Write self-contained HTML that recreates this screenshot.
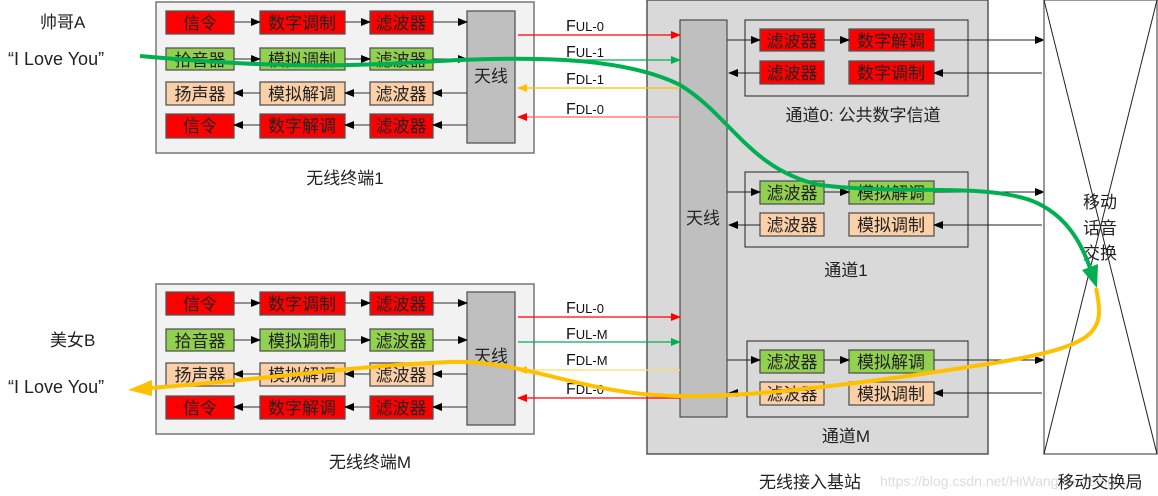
<!DOCTYPE html>
<html><head><meta charset="utf-8"><style>
html,body{margin:0;padding:0;background:#fff;}
svg{display:block;}
text{font-family:"Liberation Sans","Noto Sans CJK SC",sans-serif;}
.cn{font-size:17px;fill:#222;}
.bx{stroke:#555;stroke-width:1.3;}
</style></head><body>
<svg width="1158" height="496" viewBox="0 0 1158 496" xmlns="http://www.w3.org/2000/svg">
<defs>
<marker id="ak" markerWidth="10" markerHeight="8" refX="9" refY="4" orient="auto" markerUnits="userSpaceOnUse"><path d="M0,0 L10,4 L0,8 z" fill="#000"/></marker>
<marker id="ar" markerWidth="10" markerHeight="8" refX="9" refY="4" orient="auto" markerUnits="userSpaceOnUse"><path d="M0,0 L10,4 L0,8 z" fill="#f00"/></marker>
<marker id="ag" markerWidth="10" markerHeight="8" refX="9" refY="4" orient="auto" markerUnits="userSpaceOnUse"><path d="M0,0 L10,4 L0,8 z" fill="#00b050"/></marker>
<marker id="ay" markerWidth="10" markerHeight="8" refX="9" refY="4" orient="auto" markerUnits="userSpaceOnUse"><path d="M0,0 L10,4 L0,8 z" fill="#ffc000"/></marker>
</defs>

<text x="40" y="28" class="cn">帅哥A</text>
<text x="8" y="65" style="font-size:18px" fill="#222">“I Love You”</text>
<text x="50" y="346" class="cn">美女B</text>
<text x="8" y="393" style="font-size:18px" fill="#222">“I Love You”</text>

<!-- Terminal 1 -->
<rect x="156" y="2" width="378" height="151" fill="#f2f2f2" stroke="#777" stroke-width="1.5"/>
<g class="bx">
<rect x="166" y="11" width="68" height="23" fill="#f00"/>
<rect x="260" y="11" width="85" height="23" fill="#f00"/>
<rect x="370" y="11" width="63" height="23" fill="#f00"/>
<rect x="166" y="48" width="68" height="22" fill="#92d050"/>
<rect x="260" y="48" width="85" height="22" fill="#92d050"/>
<rect x="370" y="48" width="63" height="22" fill="#92d050"/>
<rect x="166" y="82" width="68" height="23" fill="#fbd0a8"/>
<rect x="260" y="82" width="85" height="23" fill="#fbd0a8"/>
<rect x="370" y="82" width="63" height="23" fill="#fbd0a8"/>
<rect x="166" y="114" width="68" height="24" fill="#f00"/>
<rect x="260" y="114" width="85" height="24" fill="#f00"/>
<rect x="370" y="114" width="63" height="24" fill="#f00"/>
<rect x="467" y="11" width="48" height="132" fill="#bfbfbf"/>
</g>
<g class="cn" text-anchor="middle">
<text x="200" y="29">信令</text><text x="302" y="29">数字调制</text><text x="401" y="29">滤波器</text>
<text x="200" y="66">拾音器</text><text x="302" y="66">模拟调制</text><text x="401" y="66">滤波器</text>
<text x="200" y="100">扬声器</text><text x="302" y="100">模拟解调</text><text x="401" y="100">滤波器</text>
<text x="200" y="132">信令</text><text x="302" y="132">数字解调</text><text x="401" y="132">滤波器</text>
<text x="491" y="82">天线</text>
</g>
<g stroke="#333" stroke-width="1" fill="none">
<line x1="234" y1="22" x2="260" y2="22" marker-end="url(#ak)"/>
<line x1="345" y1="22" x2="370" y2="22" marker-end="url(#ak)"/>
<line x1="433" y1="22" x2="467" y2="22" marker-end="url(#ak)"/>
<line x1="234" y1="59" x2="260" y2="59" marker-end="url(#ak)"/>
<line x1="345" y1="59" x2="370" y2="59" marker-end="url(#ak)"/>
<line x1="433" y1="59" x2="467" y2="59" marker-end="url(#ak)"/>
<line x1="260" y1="93" x2="234" y2="93" marker-end="url(#ak)"/>
<line x1="370" y1="93" x2="345" y2="93" marker-end="url(#ak)"/>
<line x1="467" y1="93" x2="433" y2="93" marker-end="url(#ak)"/>
<line x1="260" y1="125" x2="234" y2="125" marker-end="url(#ak)"/>
<line x1="370" y1="125" x2="345" y2="125" marker-end="url(#ak)"/>
<line x1="467" y1="125" x2="433" y2="125" marker-end="url(#ak)"/>
</g>
<text x="345" y="184" class="cn" text-anchor="middle">无线终端1</text>

<!-- Terminal M -->
<rect x="156" y="284" width="378" height="150" fill="#f2f2f2" stroke="#777" stroke-width="1.5"/>
<g class="bx">
<rect x="166" y="292" width="68" height="23" fill="#f00"/>
<rect x="260" y="292" width="85" height="23" fill="#f00"/>
<rect x="370" y="292" width="63" height="23" fill="#f00"/>
<rect x="166" y="329" width="68" height="22" fill="#92d050"/>
<rect x="260" y="329" width="85" height="22" fill="#92d050"/>
<rect x="370" y="329" width="63" height="22" fill="#92d050"/>
<rect x="166" y="363" width="68" height="23" fill="#fbd0a8"/>
<rect x="260" y="363" width="85" height="23" fill="#fbd0a8"/>
<rect x="370" y="363" width="63" height="23" fill="#fbd0a8"/>
<rect x="166" y="396" width="68" height="23" fill="#f00"/>
<rect x="260" y="396" width="85" height="23" fill="#f00"/>
<rect x="370" y="396" width="63" height="23" fill="#f00"/>
<rect x="467" y="292" width="48" height="133" fill="#bfbfbf"/>
</g>
<g class="cn" text-anchor="middle">
<text x="200" y="310">信令</text><text x="302" y="310">数字调制</text><text x="401" y="310">滤波器</text>
<text x="200" y="347">拾音器</text><text x="302" y="347">模拟调制</text><text x="401" y="347">滤波器</text>
<text x="200" y="381">扬声器</text><text x="302" y="381">模拟解调</text><text x="401" y="381">滤波器</text>
<text x="200" y="414">信令</text><text x="302" y="414">数字解调</text><text x="401" y="414">滤波器</text>
<text x="491" y="362">天线</text>
</g>
<g stroke="#333" stroke-width="1" fill="none">
<line x1="234" y1="303" x2="260" y2="303" marker-end="url(#ak)"/>
<line x1="345" y1="303" x2="370" y2="303" marker-end="url(#ak)"/>
<line x1="433" y1="303" x2="467" y2="303" marker-end="url(#ak)"/>
<line x1="234" y1="340" x2="260" y2="340" marker-end="url(#ak)"/>
<line x1="345" y1="340" x2="370" y2="340" marker-end="url(#ak)"/>
<line x1="433" y1="340" x2="467" y2="340" marker-end="url(#ak)"/>
<line x1="260" y1="374" x2="234" y2="374" marker-end="url(#ak)"/>
<line x1="370" y1="374" x2="345" y2="374" marker-end="url(#ak)"/>
<line x1="467" y1="374" x2="433" y2="374" marker-end="url(#ak)"/>
<line x1="260" y1="407" x2="234" y2="407" marker-end="url(#ak)"/>
<line x1="370" y1="407" x2="345" y2="407" marker-end="url(#ak)"/>
<line x1="467" y1="407" x2="433" y2="407" marker-end="url(#ak)"/>
</g>
<text x="370" y="468" class="cn" text-anchor="middle">无线终端M</text>

<!-- Base station -->
<rect x="647" y="0" width="341" height="454" fill="#d9d9d9" stroke="#555" stroke-width="1.5"/>
<rect x="680" y="20" width="47" height="397" fill="#bfbfbf" stroke="#333" stroke-width="1"/>
<text x="703" y="224" class="cn" text-anchor="middle">天线</text>
<rect x="745" y="20" width="223" height="76" fill="none" stroke="#222" stroke-width="1"/>
<rect x="745" y="172" width="223" height="75" fill="none" stroke="#222" stroke-width="1"/>
<rect x="747" y="341" width="221" height="76" fill="none" stroke="#222" stroke-width="1"/>
<g class="bx">
<rect x="760" y="29" width="64" height="22" fill="#f00"/>
<rect x="849" y="29" width="85" height="22" fill="#f00"/>
<rect x="760" y="61" width="64" height="23" fill="#f00"/>
<rect x="849" y="61" width="85" height="23" fill="#f00"/>
<rect x="760" y="181" width="64" height="23" fill="#92d050"/>
<rect x="849" y="181" width="85" height="23" fill="#92d050"/>
<rect x="760" y="213" width="64" height="23" fill="#fbd0a8"/>
<rect x="849" y="213" width="85" height="23" fill="#fbd0a8"/>
<rect x="760" y="350" width="64" height="23" fill="#92d050"/>
<rect x="849" y="350" width="85" height="23" fill="#92d050"/>
<rect x="760" y="382" width="64" height="23" fill="#fbd0a8"/>
<rect x="849" y="382" width="85" height="23" fill="#fbd0a8"/>
</g>
<g class="cn" text-anchor="middle">
<text x="792" y="47">滤波器</text><text x="891" y="47">数字解调</text>
<text x="792" y="79">滤波器</text><text x="891" y="79">数字调制</text>
<text x="792" y="199">滤波器</text><text x="891" y="199">模拟解调</text>
<text x="792" y="231">滤波器</text><text x="891" y="231">模拟调制</text>
<text x="792" y="368">滤波器</text><text x="891" y="368">模拟解调</text>
<text x="792" y="400">滤波器</text><text x="891" y="400">模拟调制</text>
<text x="863" y="121">通道0: 公共数字信道</text>
<text x="846" y="276">通道1</text>
<text x="846" y="442">通道M</text>
<text x="810" y="488">无线接入基站</text>
</g>
<text x="880" y="486" font-size="14" fill="#dcdcdc">https://blog.csdn.net/HiWangWenBing</text>
<text x="1100" y="488" class="cn" text-anchor="middle">移动交换局</text>
<g stroke="#222" stroke-width="1" fill="none">
<line x1="727" y1="40" x2="760" y2="40" marker-end="url(#ak)"/>
<line x1="824" y1="40" x2="849" y2="40" marker-end="url(#ak)"/>
<line x1="934" y1="40" x2="1044" y2="40" marker-end="url(#ak)"/>
<line x1="1042" y1="73" x2="934" y2="73" marker-end="url(#ak)"/>
<line x1="760" y1="73" x2="729" y2="73" marker-end="url(#ak)"/>
<line x1="727" y1="192" x2="760" y2="192" marker-end="url(#ak)"/>
<line x1="824" y1="192" x2="849" y2="192" marker-end="url(#ak)"/>
<line x1="934" y1="192" x2="1044" y2="192" marker-end="url(#ak)"/>
<line x1="1042" y1="225" x2="934" y2="225" marker-end="url(#ak)"/>
<line x1="760" y1="225" x2="729" y2="225" marker-end="url(#ak)"/>
<line x1="727" y1="360" x2="760" y2="360" marker-end="url(#ak)"/>
<line x1="824" y1="360" x2="849" y2="360" marker-end="url(#ak)"/>
<line x1="934" y1="360" x2="1044" y2="360" marker-end="url(#ak)"/>
<line x1="1042" y1="393" x2="934" y2="393" marker-end="url(#ak)"/>
<line x1="760" y1="393" x2="729" y2="393" marker-end="url(#ak)"/>
</g>

<!-- Switch -->
<rect x="1044" y="0" width="113" height="454" fill="#fff" stroke="#777" stroke-width="1.5"/>
<line x1="1044" y1="0" x2="1157" y2="454" stroke="#222" stroke-width="1"/>
<line x1="1157" y1="0" x2="1044" y2="454" stroke="#222" stroke-width="1"/>
<g class="cn" text-anchor="middle">
<text x="1100" y="208">移动</text>
<text x="1100" y="234">话音</text>
<text x="1100" y="259">交换</text>
</g>

<g stroke-width="1.2" fill="none">
<line x1="518" y1="35" x2="680" y2="35" stroke="#f00" marker-end="url(#ar)"/>
<line x1="518" y1="60" x2="680" y2="60" stroke="#00b050" marker-end="url(#ag)"/>
<line x1="680" y1="88" x2="518" y2="88" stroke="#ffc000" marker-end="url(#ay)"/>
<line x1="680" y1="117" x2="518" y2="117" stroke="#f66" marker-end="url(#ar)"/>
<line x1="518" y1="317" x2="680" y2="317" stroke="#f00" marker-end="url(#ar)"/>
<line x1="518" y1="342" x2="680" y2="342" stroke="#00b050" marker-end="url(#ag)"/>
<line x1="680" y1="370" x2="518" y2="370" stroke="#ffd966" marker-end="url(#ay)"/>
<line x1="680" y1="398" x2="518" y2="398" stroke="#f00" marker-end="url(#ar)"/>
</g>
<g font-size="16" fill="#111">
<text x="566" y="31">F<tspan font-size="13">UL-0</tspan></text>
<text x="566" y="57">F<tspan font-size="13">UL-1</tspan></text>
<text x="566" y="84">F<tspan font-size="13">DL-1</tspan></text>
<text x="566" y="114">F<tspan font-size="13">DL-0</tspan></text>
<text x="566" y="313">F<tspan font-size="13">UL-0</tspan></text>
<text x="566" y="339">F<tspan font-size="13">UL-M</tspan></text>
<text x="566" y="365">F<tspan font-size="13">DL-M</tspan></text>
<text x="566" y="394">F<tspan font-size="13">DL-0</tspan></text>
</g>

<path d="M140,56 C250,66 330,68 420,62 C520,56 620,55 680,85 C730,115 750,170 820,185 C900,195 980,183 1030,200 C1070,215 1085,250 1094,280" fill="none" stroke="#00b050" stroke-width="4"/>
<path d="M1082,270 L1097,288 L1098,264 z" fill="#00b050"/>
<path d="M1096,288 C1105,330 1100,345 1000,362 C900,378 760,398 680,396 C580,395 530,360 450,362 C350,366 260,380 150,388" fill="none" stroke="#ffc000" stroke-width="4"/>
<path d="M128,390 L152,380 L152,396 z" fill="#ffc000"/>
</svg>
</body></html>
